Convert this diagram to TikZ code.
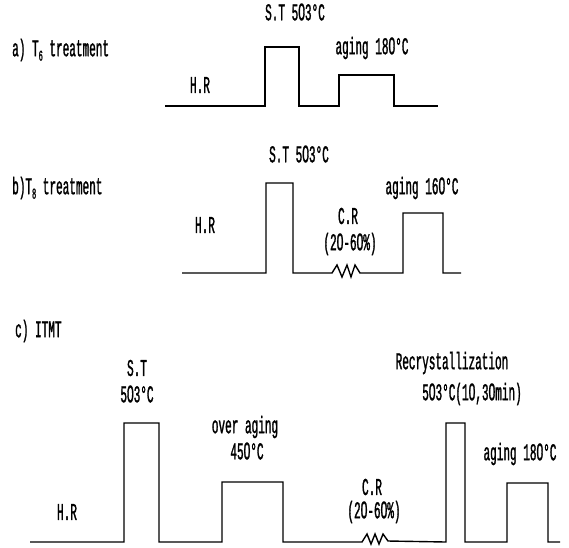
\documentclass[tikz,border=0pt]{standalone}
\usepackage{fontspec}
\setmainfont[FakeStretch=0.46,FakeBold=1.2]{Liberation Mono}
\newfontfamily\zerofont[FakeStretch=0.5,FakeBold=1.2]{Liberation Sans}
\newcommand{\Z}{{\zerofont 0}}
\newcommand{\subsc}[1]{\raisebox{-0.35ex}{\fontsize{15}{15}\selectfont #1}}
\begin{document}
\begin{tikzpicture}[x=1pt,y=-1pt,
  lbl/.style={inner sep=0pt,font=\fontsize{24}{24}\selectfont},
  curve/.style={line width=1.4pt,line join=miter}]
\useasboundingbox (0,0) rectangle (569,547);
% panel a
\node[lbl,anchor=west] (ta) at (12,50) {a) T\subsc{6} treatment};
\node[lbl] (sta) at (295,12) {S.T 5\Z3°C};
\node[lbl] (hra) at (200,85) {H.R};
\node[lbl] (aga) at (372,48) {aging 18\Z°C};
\draw[curve] (165,106) -- (265,106) -- (265,47) -- (299,47) -- (299,106) -- (339,106) -- (339,75) -- (394,75) -- (394,106) -- (438,106);
% panel b
\node[lbl,anchor=west] (tb) at (12,188) {b)T\subsc{8} treatment};
\node[lbl] (stb) at (299,154) {S.T 5\Z3°C};
\node[lbl] (hrb) at (205,225) {H.R};
\node[lbl] (crb) at (348,216) {C.R};
\node[lbl] (pcb) at (350,244) {(2\Z-6\Z\%)};
\node[lbl] (agb) at (422,188) {aging 16\Z°C};
\draw[curve] (182,273) -- (266,273) -- (266,183) -- (293,183) -- (293,273) -- (332,273)
  -- (337,265) -- (342,277) -- (347,265) -- (351,277) -- (355,265) -- (360,273)
  -- (403,273) -- (403,213) -- (443,213) -- (443,273) -- (461,273);
% panel c
\node[lbl,anchor=west] (tc) at (15,331) {c) ITMT};
\node[lbl] (stc) at (137,368) {S.T};
\node[lbl] (tpc) at (137,394) {5\Z3°C};
\node[lbl] (hrc) at (67,512) {H.R};
\node[lbl] (oac) at (245,427) {over aging};
\node[lbl] (otc) at (247,451) {45\Z°C};
\node[lbl] (crc) at (372,487) {C.R};
\node[lbl] (pcc) at (374,512) {(2\Z-6\Z\%)};
\node[lbl] (rxc) at (452,363) {Recrystallization};
\node[lbl] (rtc) at (472,394) {5\Z3°C(1\Z,3\Z min)};
\node[lbl] (agc) at (520,454) {aging 18\Z°C};
\draw[curve] (30,542) -- (124,542) -- (124,423) -- (159,423) -- (159,542) -- (222,542)
  -- (222,482) -- (283,482) -- (283,542) -- (362,542)
  -- (367,534) -- (371,544) -- (375,534) -- (379,544) -- (383,534) -- (388,541)
  -- (446,542) -- (446,423) -- (465,423) -- (465,542) -- (507,542) -- (507,483)
  -- (548,483) -- (548,542) -- (560,542);
\end{tikzpicture}
\end{document}
